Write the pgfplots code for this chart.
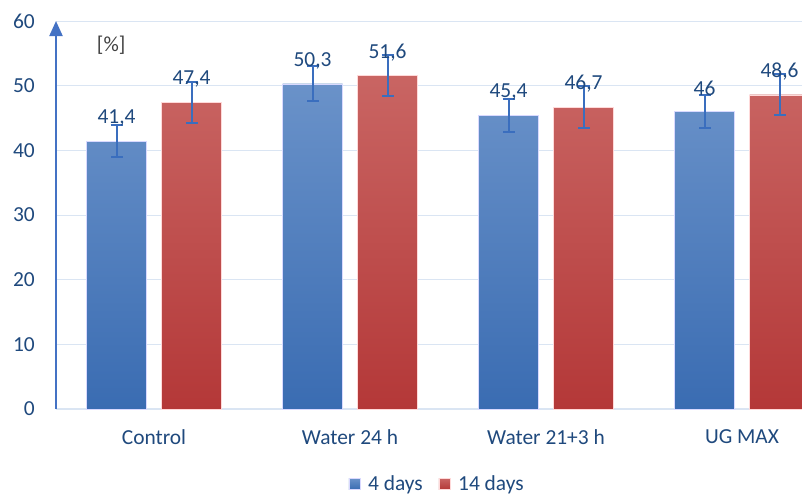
\documentclass[border=0pt]{standalone}
\usepackage{fontspec}
\setmainfont{Carlito}
\usepackage{pgfplots}
\usepackage{pgfplotstable}
\pgfplotsset{compat=1.18}
\usetikzlibrary{arrows.meta}

\definecolor{txtblue}{RGB}{31,73,125}
\definecolor{axblue}{RGB}{68,114,196}
\definecolor{gridblue}{RGB}{218,229,243}
\definecolor{blueTop}{RGB}{106,146,201}
\definecolor{blueBot}{RGB}{58,108,178}
\definecolor{redTop}{RGB}{201,101,99}
\definecolor{redBot}{RGB}{180,56,56}
\definecolor{errblue}{RGB}{58,110,190}

% x  value  error  label
\pgfplotstableread{
x y e lab
0 41.4 2.5 41,4
1 50.3 2.7 50,3
2 45.4 2.6 45,4
3 46.0 2.6 46
}\fourdays
\pgfplotstableread{
x y e lab
0 47.4 3.2 47,4
1 51.6 3.2 51,6
2 46.7 3.3 46,7
3 48.6 3.2 48,6
}\fourteendays

\pgfplotsset{
    errs/.style={
        forget plot, draw=none, fill=none,
        point meta=explicit symbolic,
        nodes near coords,
        every node near coord/.append style={anchor=center, yshift=23bp,
            text=txtblue, font=\fontsize{21.5}{24}\selectfont, inner sep=0pt},
        error bars/.cd, y dir=both, y explicit,
        error bar style={draw=errblue, line width=2bp},
        error mark options={rotate=90, draw=errblue, mark size=6bp, line width=2bp},
    },
}

\begin{document}
\begin{tikzpicture}
\begin{axis}[
    scale only axis,
    width=746bp, height=388bp,
    xmin=-0.5, xmax=3.306,
    ymin=0, ymax=60,
    ytick={0,10,...,60},
    xtick={0,1,2,3},
    xticklabels={Control, Water 24 h, Water 21+3 h, UG MAX},
    ybar, bar width=60bp,
    axis x line=bottom,
    axis y line=left,
    x axis line style={-, draw=gridblue, line width=1.5bp},
    y axis line style={-{Triangle[width=13bp,length=15bp]}, draw=axblue, line width=2bp},
    major tick length=0pt,
    ymajorgrids,
    grid style={draw=gridblue, line width=1bp},
    tick label style={text=txtblue, font=\fontsize{21.5}{24}\selectfont},
    yticklabel style={inner sep=0pt, anchor=east, xshift=-21bp},
    xticklabel style={inner sep=0pt, anchor=center, yshift=-28bp},
    /pgf/number format/assume math mode=true,
    legend columns=2,
    legend style={at={(0.511,-0.193)}, anchor=center, draw=none, fill=none,
        text=txtblue, font=\fontsize{21.5}{24}\selectfont,
        /tikz/every odd column/.append style={column sep=6bp},
        /tikz/every even column/.append style={column sep=14bp}},
    legend image code/.code={\fill[#1] (0bp,-5.5bp) rectangle (11bp,5.5bp);},
]
% 4 days
\addplot[bar shift=-37.5bp, top color=blueTop, bottom color=blueBot, draw=white!85!blue]
    table[x=x, y=y] {\fourdays};
% 14 days
\addplot[bar shift=37.5bp, top color=redTop, bottom color=redBot, draw=white!85!red]
    table[x=x, y=y] {\fourteendays};
\legend{4 days, 14 days}
% error bars and value labels
\addplot[bar shift=-37.5bp, errs]
    table[x=x, y=y, y error=e, meta=lab] {\fourdays};
\addplot[bar shift=37.5bp, errs]
    table[x=x, y=y, y error=e, meta=lab] {\fourteendays};
\node[text={rgb,255:red,64;green,64;blue,64}, font=\fontsize{21.5}{24}\selectfont]
    at (rel axis cs:0.074,0.938) {[\%]};
\coordinate (O) at (rel axis cs:0,0);
\end{axis}
\pgfresetboundingbox
\path[use as bounding box] (O) ++(-56bp,-86bp) rectangle ++(802bp,495bp);
\end{tikzpicture}
\end{document}
